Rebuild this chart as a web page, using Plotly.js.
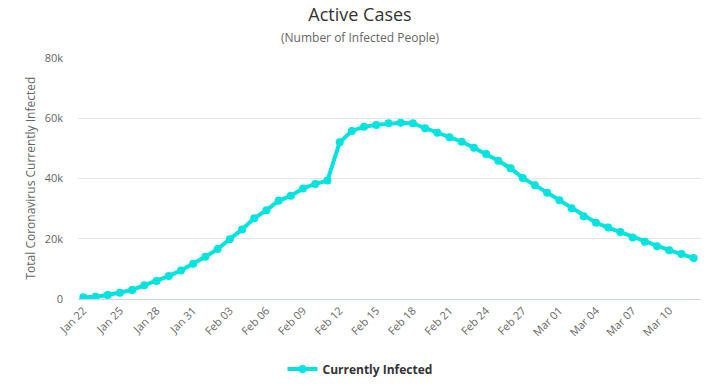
<!DOCTYPE html>
<html>
<head>
<meta charset="utf-8">
<script src="https://cdn.plot.ly/plotly-3.0.1.min.js"></script>
<style>html,body{margin:0;padding:0;background:#fff;}#chart{width:720px;height:392px;}</style>
</head>
<body>
<div id="chart"></div>
<script>
const dates = [
  "2020-01-22","2020-01-23","2020-01-24","2020-01-25","2020-01-26","2020-01-27","2020-01-28","2020-01-29","2020-01-30","2020-01-31",
  "2020-02-01","2020-02-02","2020-02-03","2020-02-04","2020-02-05","2020-02-06","2020-02-07","2020-02-08","2020-02-09","2020-02-10",
  "2020-02-11","2020-02-12","2020-02-13","2020-02-14","2020-02-15","2020-02-16","2020-02-17","2020-02-18","2020-02-19","2020-02-20",
  "2020-02-21","2020-02-22","2020-02-23","2020-02-24","2020-02-25","2020-02-26","2020-02-27","2020-02-28","2020-02-29",
  "2020-03-01","2020-03-02","2020-03-03","2020-03-04","2020-03-05","2020-03-06","2020-03-07","2020-03-08","2020-03-09","2020-03-10",
  "2020-03-11","2020-03-12"
];
const currentlyInfected = [
  570, 770, 1340, 2100, 3000, 4600, 6000, 7600, 9500, 11700,
  14000, 16600, 19800, 23100, 26800, 29500, 32600, 34300, 36700, 38200,
  39300, 52000, 55800, 57200, 57800, 58300, 58500, 58300, 56700, 55200,
  53700, 52200, 50200, 48100, 45900, 43400, 40200, 37800, 35300,
  32800, 30100, 27500, 25300, 23700, 22200, 20400, 19000, 17500, 16200,
  14900, 13600
];
const yTickVals = [0, 20000, 40000, 60000, 80000];
const yTickText = ["0", "20k", "40k", "60k", "80k"];

const font = "'Open Sans', 'DejaVu Sans', sans-serif";
const cyan = "#00e3de";

const trace = {
  x: dates,
  y: currentlyInfected,
  type: "scatter",
  mode: "lines+markers",
  name: "Currently Infected",
  line: {color: cyan, width: 4},
  marker: {color: cyan, size: 8},
  hoverinfo: "x+y"
};

const layout = {
  width: 720,
  height: 392,
  margin: {l: 78, r: 19, t: 57.5, b: 93.3, autoexpand: false},
  paper_bgcolor: "#ffffff",
  plot_bgcolor: "#ffffff",
  font: {family: font, color: "#666666", size: 11},
  title: {
    text: "Active Cases",
    font: {family: font, size: 18, color: "#333333"},
    x: 0.5, xanchor: "center",
    y: 1 - 15 / 392, yref: "container", yanchor: "middle"
  },
  showlegend: true,
  legend: {
    orientation: "h",
    x: (360 - 78) / 623, xanchor: "center",
    y: -0.29, yanchor: "middle",
    font: {family: font, size: 12, color: "#333333", weight: "bold"}
  },
  xaxis: {
    type: "date",
    range: ["2020-01-21 13:30", "2020-03-12 14:30"],
    tick0: "2020-01-22",
    dtick: 3 * 86400000,
    tickformat: "%b %d",
    tickangle: -45,
    showgrid: false,
    showline: true,
    linecolor: "#ccd6eb",
    linewidth: 1,
    ticks: "",
    tickfont: {family: font, size: 11, color: "#666666"},
    zeroline: false,
    fixedrange: true
  },
  yaxis: {
    range: [0, 80000],
    tickvals: yTickVals,
    ticktext: yTickText,
    showgrid: true,
    gridcolor: "#e6e6e6",
    gridwidth: 1,
    zeroline: false,
    ticks: "",
    ticklabelstandoff: 14,
    tickfont: {family: font, size: 11, color: "#666666"},
    fixedrange: true
  },
  annotations: [
    {
      text: "(Number of Infected People)",
      xref: "paper", yref: "paper",
      x: (360 - 78) / 623, y: (298.7 - 37) / 241.2,
      xanchor: "center", yanchor: "middle",
      showarrow: false,
      font: {family: font, size: 12, color: "#666666"}
    },
    {
      text: "Total Coronavirus Currently Infected",
      xref: "paper", yref: "paper",
      x: (30 - 78) / 623, y: 0.5,
      xanchor: "center", yanchor: "middle",
      textangle: -90,
      showarrow: false,
      font: {family: font, size: 12, color: "#666666"}
    }
  ]
};

Plotly.newPlot("chart", [trace], layout, {displayModeBar: false, staticPlot: false});
</script>
</body>
</html>
